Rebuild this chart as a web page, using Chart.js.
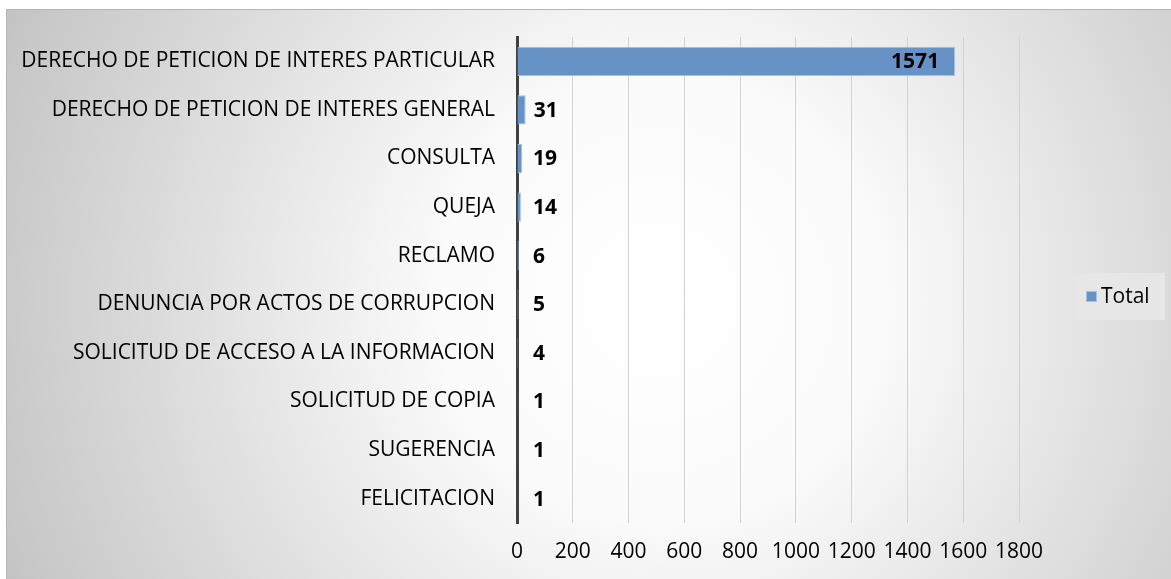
<!DOCTYPE html>
<html>
<head>
<meta charset="utf-8">
<script src="https://cdn.jsdelivr.net/npm/chart.js@4/dist/chart.umd.min.js"></script>
<style>
  html, body { margin: 0; padding: 0; background: #fff; }
  #wrap { width: 1171px; height: 579px; position: relative; }
</style>
</head>
<body>
<div id="wrap"><canvas id="chart"></canvas></div>
<script>
// data
const categories = [
    'DERECHO DE PETICION DE INTERES PARTICULAR',
    'DERECHO DE PETICION DE INTERES GENERAL',
    'CONSULTA',
    'QUEJA',
    'RECLAMO',
    'DENUNCIA POR ACTOS DE CORRUPCION',
    'SOLICITUD DE ACCESO A LA INFORMACION',
    'SOLICITUD DE COPIA',
    'SUGERENCIA',
    'FELICITACION'
];
const totals = [1571, 31, 19, 14, 6, 5, 4, 1, 1, 1];
const seriesName = 'Total';
const xTicks = [0, 200, 400, 600, 800, 1000, 1200, 1400, 1600, 1800];

const FONT = '"Open Sans", Lato, sans-serif';
const FS = 21;

// gradient backdrop + frame
const backdrop = {
    id: 'backdrop',
    beforeDraw(chart) {
        const ctx = chart.ctx;
        const w = chart.width, h = chart.height;
        ctx.save();
        ctx.fillStyle = '#ffffff';
        ctx.fillRect(0, 0, w, h);
        const g = ctx.createRadialGradient(660, 300, 0, 660, 300, 720);
        g.addColorStop(0, '#ffffff');
        g.addColorStop(0.3, '#fbfbfb');
        g.addColorStop(1, '#c3c3c3');
        ctx.fillStyle = g;
        ctx.fillRect(6, 9, w - 6, h - 9);
        ctx.strokeStyle = '#b4b4b4';
        ctx.lineWidth = 1;
        ctx.beginPath();
        ctx.moveTo(6.5, h);
        ctx.lineTo(6.5, 9.5);
        ctx.lineTo(w, 9.5);
        ctx.stroke();
        ctx.restore();
    }
};

// value labels + legend box
const valueLabels = {
    id: 'valueLabels',
    afterDatasetsDraw(chart) {
        const ctx = chart.ctx;
        const meta = chart.getDatasetMeta(0);
        const zeroX = chart.scales.x.getPixelForValue(0);
        ctx.save();
        ctx.font = 'bold ' + FS + 'px ' + FONT;
        ctx.fillStyle = '#000';
        ctx.textBaseline = 'middle';
        meta.data.forEach((bar, i) => {
            const v = totals[i];
            if (bar.x - zeroX > 80) {
                ctx.textAlign = 'right';
                ctx.fillText(String(v), bar.x - 16, bar.y + 1);
            } else {
                ctx.textAlign = 'left';
                ctx.fillText(String(v), Math.max(bar.x, zeroX + 8) + 8, bar.y + 1);
            }
        });

        // legend
        ctx.fillStyle = 'rgba(232,232,232,0.85)';
        ctx.fillRect(1073, 273, 92, 47);
        ctx.fillStyle = '#6792c6';
        ctx.fillRect(1086, 291, 11, 11);
        ctx.strokeStyle = '#a7c0e0';
        ctx.lineWidth = 1;
        ctx.strokeRect(1086.5, 291.5, 10, 10);
        ctx.font = FS + 'px ' + FONT;
        ctx.fillStyle = '#000';
        ctx.textAlign = 'left';
        ctx.fillText(seriesName, 1101, 297);
        ctx.restore();
    }
};

new Chart(document.getElementById('chart'), {
    type: 'bar',
    data: {
        labels: categories,
        datasets: [{
            label: seriesName,
            data: totals,
            backgroundColor: '#6792c6',
            borderColor: '#a7c0e0',
            borderWidth: 1,
            barPercentage: 0.6,
            categoryPercentage: 1
        }]
    },
    options: {
        indexAxis: 'y',
        responsive: true,
        maintainAspectRatio: false,
        animation: false,
        layout: { padding: { top: 37, right: 152, bottom: 0, left: 10 } },
        plugins: { legend: { display: false }, tooltip: { enabled: false } },
        scales: {
            x: {
                min: 0,
                max: 1800,
                afterBuildTicks: (scale) => { scale.ticks = xTicks.map(v => ({ value: v })); },
                afterFit: (scale) => { scale.height = 56; },
                grid: { color: '#d2d2d2', lineWidth: 1, drawTicks: false },
                border: { display: false },
                ticks: {
                    color: '#000', padding: 16, font: { family: FONT, size: FS },
                    maxRotation: 0, autoSkip: false,
                    callback: (v) => String(v)
                }
            },
            y: {
                afterFit: (scale) => { scale.width = 507; },
                grid: { display: false, drawTicks: false },
                border: { display: true, color: '#404040', width: 3 },
                ticks: { color: '#000', padding: 22, font: { family: FONT, size: FS } }
            }
        }
    },
    plugins: [backdrop, valueLabels]
});
</script>
</body>
</html>
